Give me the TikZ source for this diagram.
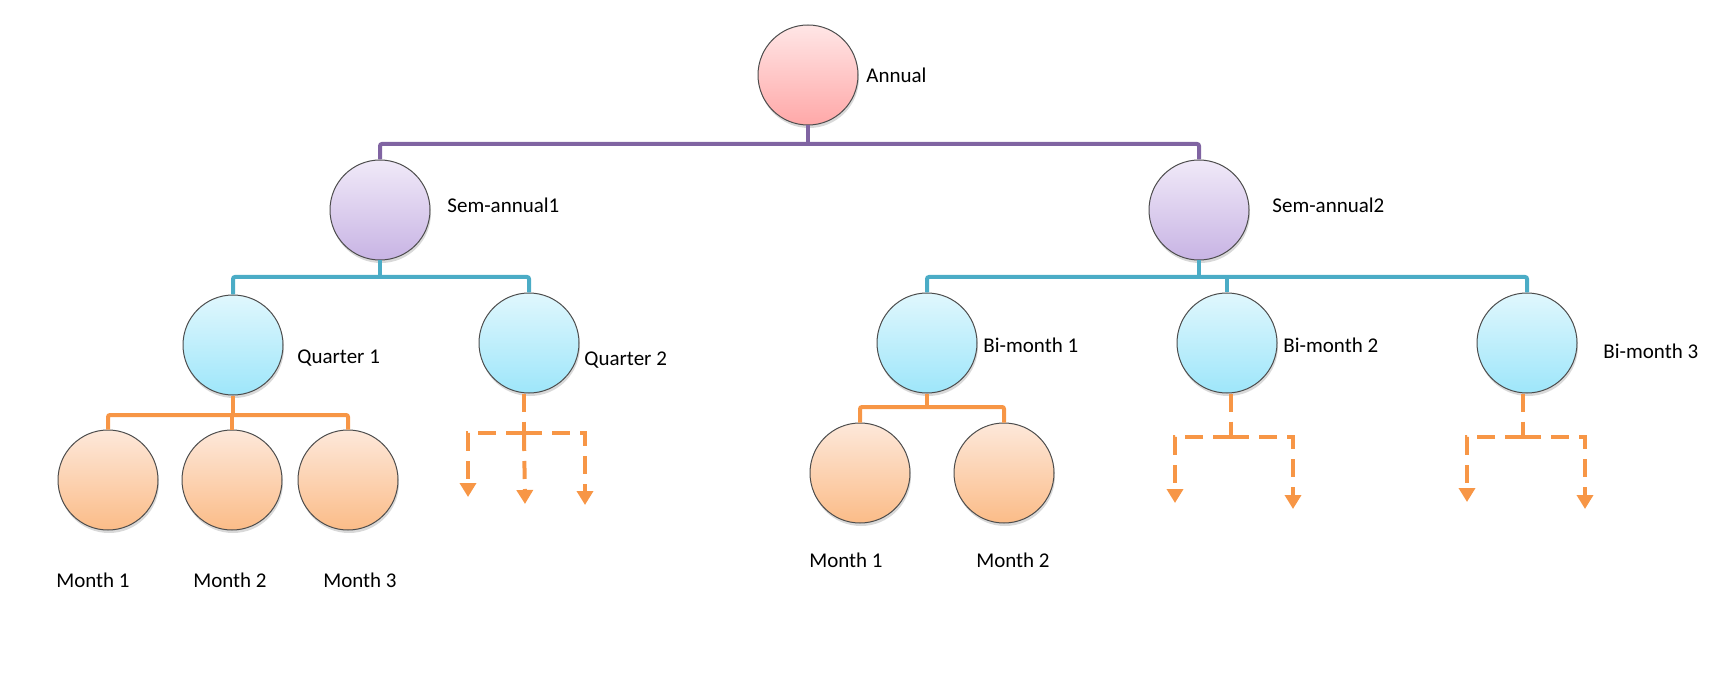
\documentclass[tikz,border=0pt]{standalone}
\usepackage{fontspec}
\setmainfont{Carlito}
\usepackage{tikz}
\usetikzlibrary{calc}
\usetikzlibrary{positioning}
\usetikzlibrary{shadows}
\usetikzlibrary{arrows.meta}

\definecolor{linepurple}{RGB}{128,100,162}
\definecolor{lineteal}{RGB}{75,172,198}
\definecolor{lineorange}{RGB}{247,150,70}
\definecolor{pinktop}{RGB}{255,230,230}
\definecolor{pinkbot}{RGB}{255,168,168}
\definecolor{lilactop}{RGB}{240,233,248}
\definecolor{lilacbot}{RGB}{200,180,228}
\definecolor{cyantop}{RGB}{224,247,253}
\definecolor{cyanbot}{RGB}{158,230,250}
\definecolor{peachtop}{RGB}{253,232,218}
\definecolor{peachbot}{RGB}{251,188,136}

\tikzset{
  bubble/.style={circle, draw=black!70, line width=0.5pt, minimum size=50pt, inner sep=0pt,
    drop shadow={shadow xshift=0.5pt, shadow yshift=-1.5pt, opacity=0.3}},
  yearnode/.style={bubble, top color=pinktop, bottom color=pinkbot},
  halfnode/.style={bubble, top color=lilactop, bottom color=lilacbot},
  partnode/.style={bubble, top color=cyantop, bottom color=cyanbot},
  monthnode/.style={bubble, top color=peachtop, bottom color=peachbot},
  lbl/.style={font=\fontsize{10.5}{12}\selectfont, inner sep=0pt},
  purpline/.style={draw=linepurple, line width=2pt},
  tealline/.style={draw=lineteal, line width=2pt},
  orangeline/.style={draw=lineorange, line width=2pt},
  dashline/.style={draw=lineorange, line width=2pt, dash pattern=on 9pt off 5pt},
  dasharrow/.style={dashline, -{Triangle[width=8pt,length=7pt]}}
}

\begin{document}
\begin{tikzpicture}[x=0.5pt, y=-0.5pt]
\useasboundingbox (0,0) rectangle (1735,679);

% circles
\node[yearnode]  (ann)  at (  808,  75 ) {};
\node[halfnode]  (sa1)  at (  380, 210 ) {};
\node[halfnode]  (sa2)  at ( 1199, 210 ) {};
\node[partnode]  (q1)   at (  233, 345 ) {};
\node[partnode]  (q2)   at (  529, 343 ) {};
\node[partnode]  (bm1)  at (  927, 343 ) {};
\node[partnode]  (bm2)  at ( 1227, 343 ) {};
\node[partnode]  (bm3)  at ( 1527, 343 ) {};
\node[monthnode] (m1)   at (  108, 480 ) {};
\node[monthnode] (m2)   at (  232, 480 ) {};
\node[monthnode] (m3)   at (  348, 480 ) {};
\node[monthnode] (mb1)  at (  860, 473 ) {};
\node[monthnode] (mb2)  at ( 1004, 473 ) {};

% labels
\node[lbl, anchor=west] (annL) at (  866,  75 ) {Annual};
\node[lbl, anchor=west] (sa1L) at (  447, 205 ) {Sem-annual1};
\node[lbl, anchor=west] (sa2L) at ( 1272, 205 ) {Sem-annual2};
\node[lbl, anchor=west] (q1L)  at (  297, 358 ) {Quarter 1};
\node[lbl, anchor=west] (q2L)  at (  584, 360 ) {Quarter 2};
\node[lbl, anchor=west] (bm1L) at (  983, 345 ) {Bi-month 1};
\node[lbl, anchor=west] (bm2L) at ( 1283, 345 ) {Bi-month 2};
\node[lbl, anchor=west] (bm3L) at ( 1603, 351 ) {Bi-month 3};
\node[lbl] (m1L)  at (   93, 580 ) {Month 1};
\node[lbl] (m2L)  at (  230, 580 ) {Month 2};
\node[lbl] (m3L)  at (  360, 580 ) {Month 3};
\node[lbl] (mb1L) at (  846, 560 ) {Month 1};
\node[lbl] (mb2L) at ( 1013, 560 ) {Month 2};

% bus points
\coordinate (busA)  at (  808, 144 );
\coordinate (busB)  at (  380, 277 );
\coordinate (busC)  at ( 1199, 277 );
\coordinate (busD)  at (  233, 415 );
\coordinate (busE)  at (  927, 407 );

% solid connectors
\draw[purpline] (ann.south) -- (busA);
\draw[purpline, rounded corners=1pt] (sa1.north) |- (busA) -| (sa2.north);
\draw[tealline] (sa1.south) -- (busB);
\draw[tealline, rounded corners=1pt] (q1.north) |- (busB) -| (q2.north);
\draw[tealline] (sa2.south) -- (busC);
\draw[tealline, rounded corners=1pt] (bm1.north) |- (busC) -| (bm3.north);
\draw[tealline] (bm2.north) -- (bm2 |- busC);
\draw[orangeline] (q1.south) -- (busD);
\draw[orangeline, rounded corners=1pt] (m1.north) |- (busD) -| (m3.north);
\draw[orangeline] (m2.north) -- (m2 |- busD);
\draw[orangeline] (bm1.south) -- (busE);
\draw[orangeline, rounded corners=1pt] (mb1.north) |- (busE) -| (mb2.north);

% open branches
\coordinate (q2j)  at (  524, 433 );
\coordinate (q2a)  at (  468, 497 );
\coordinate (q2b)  at (  525, 504 );
\coordinate (q2c)  at (  585, 505 );
\draw[dashline] (q2.south -| q2j) -- (q2j);
\draw[dasharrow] (q2j) -| (q2a);
\draw[dasharrow] (q2j) -- (q2b);
\draw[dasharrow] (q2j) -| (q2c);

\coordinate (bm2j) at ( 1231, 437 );
\coordinate (bm2a) at ( 1175, 503 );
\coordinate (bm2b) at ( 1293, 509 );
\draw[dashline] (bm2.south -| bm2j) -- (bm2j);
\draw[dasharrow] (bm2j) -| (bm2a);
\draw[dasharrow] (bm2j) -| (bm2b);

\coordinate (bm3j) at ( 1523, 437 );
\coordinate (bm3a) at ( 1467, 502 );
\coordinate (bm3b) at ( 1585, 509 );
\draw[dashline] (bm3.south -| bm3j) -- (bm3j);
\draw[dasharrow] (bm3j) -| (bm3a);
\draw[dasharrow] (bm3j) -| (bm3b);
\end{tikzpicture}
\end{document}
